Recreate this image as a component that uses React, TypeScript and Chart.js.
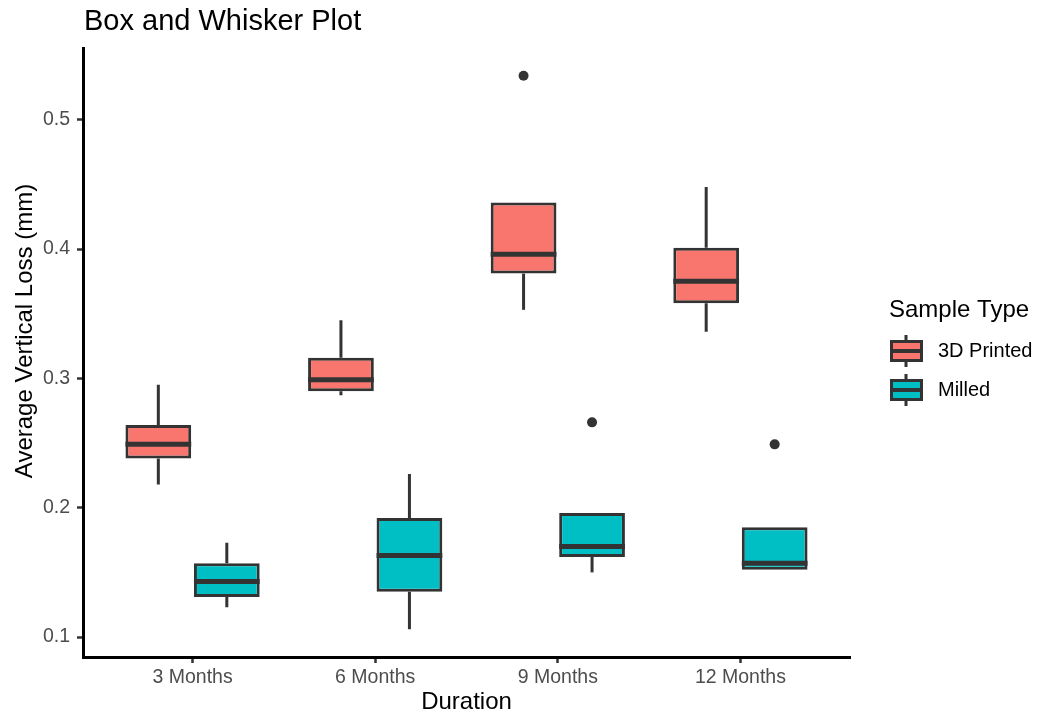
import React, { useEffect, useRef } from "react";
import { Chart, registerables } from "chart.js";

Chart.register(...registerables);

// ---------- data ----------
const durations = ["3 Months", "6 Months", "9 Months", "12 Months"];
const seriesNames = ["3D Printed", "Milled"];

const printedLow = [0.218, 0.287, 0.353, 0.336];
const printedQ1 = [0.238, 0.29, 0.381, 0.358];
const printedMedian = [0.249, 0.299, 0.396, 0.375];
const printedQ3 = [0.264, 0.316, 0.436, 0.401];
const printedHigh = [0.295, 0.345, 0.436, 0.448];
const printedOutliers: number[][] = [[], [], [0.534], []];

const milledLow = [0.123, 0.106, 0.15, 0.152];
const milledQ1 = [0.131, 0.135, 0.162, 0.152];
const milledMedian = [0.143, 0.163, 0.17, 0.157];
const milledQ3 = [0.157, 0.192, 0.196, 0.185];
const milledHigh = [0.173, 0.226, 0.196, 0.185];
const milledOutliers: number[][] = [[], [], [0.266], [0.249]];

const yTickValues = [0.1, 0.2, 0.3, 0.4, 0.5];
const yTickLabels = ["0.1", "0.2", "0.3", "0.4", "0.5"];

// ---------- styles ----------
const FONT = '"Liberation Sans", Arial, Helvetica, sans-serif';
const COLORS = ["#F8766D", "#00BFC4"];
const DARK = "#333333";

const allValues = [
  ...printedLow, ...printedHigh, ...printedOutliers.flat(),
  ...milledLow, ...milledHigh, ...milledOutliers.flat(),
];
const dataMin = Math.min(...allValues);
const dataMax = Math.max(...allValues);
const pad = (dataMax - dataMin) * 0.05;

function makeDataset(idx: number, low: number[], q1: number[], med: number[], q3: number[], high: number[], out: number[][]) {
  return {
    label: seriesNames[idx],
    data: durations.map((_, i) => ({ x: i + 1, y: [q1[i], q3[i]] })),
    backgroundColor: COLORS[idx],
    borderColor: DARK,
    borderWidth: 3,
    borderSkipped: false,
    categoryPercentage: 0.75,
    barPercentage: 0.96,
    stats: { low, q1, med, q3, high, out },
  } as any;
}

const boxPlugin = {
  id: "boxWhisker",
  beforeDatasetsDraw(chart: any) {
    const ctx = chart.ctx;
    const ys = chart.scales.y;
    ctx.save();
    ctx.strokeStyle = DARK;
    ctx.lineWidth = 3;
    ctx.lineCap = "butt";
    chart.data.datasets.forEach((ds: any, di: number) => {
      const meta = chart.getDatasetMeta(di);
      meta.data.forEach((bar: any, j: number) => {
        const s = ds.stats;
        const x = bar.x;
        ctx.beginPath();
        ctx.moveTo(x, ys.getPixelForValue(s.high[j]));
        ctx.lineTo(x, ys.getPixelForValue(s.q3[j]));
        ctx.moveTo(x, ys.getPixelForValue(s.q1[j]));
        ctx.lineTo(x, ys.getPixelForValue(s.low[j]));
        ctx.stroke();
      });
    });
    ctx.restore();
  },
  afterDatasetsDraw(chart: any) {
    const ctx = chart.ctx;
    const ys = chart.scales.y;
    ctx.save();
    chart.data.datasets.forEach((ds: any, di: number) => {
      const meta = chart.getDatasetMeta(di);
      meta.data.forEach((bar: any, j: number) => {
        const s = ds.stats;
        const x = bar.x;
        const w = bar.width;
        ctx.strokeStyle = DARK;
        ctx.lineWidth = 5;
        ctx.beginPath();
        const my = ys.getPixelForValue(s.med[j]);
        ctx.moveTo(x - w / 2, my);
        ctx.lineTo(x + w / 2, my);
        ctx.stroke();
        ctx.fillStyle = DARK;
        s.out[j].forEach((v: number) => {
          ctx.beginPath();
          ctx.arc(x, ys.getPixelForValue(v), 5, 0, Math.PI * 2);
          ctx.fill();
        });
      });
    });
    ctx.restore();
  },
  afterDraw(chart: any) {
    const ctx = chart.ctx;
    const area = chart.chartArea;
    ctx.save();
    // title
    ctx.fillStyle = "#000000";
    ctx.font = `29px ${FONT}`;
    ctx.textAlign = "left";
    ctx.textBaseline = "alphabetic";
    ctx.fillText("Box and Whisker Plot", area.left + 1, 30);

    // y axis title
    ctx.save();
    ctx.translate(25, 331);
    ctx.rotate(-Math.PI / 2);
    ctx.font = `24px ${FONT}`;
    ctx.textAlign = "center";
    ctx.textBaseline = "middle";
    ctx.fillText("Average Vertical Loss (mm)", 0, 0);
    ctx.restore();

    // legend
    const lx = area.right + 39;
    ctx.font = `24px ${FONT}`;
    ctx.textAlign = "left";
    ctx.textBaseline = "alphabetic";
    ctx.fillText("Sample Type", lx, 317);
    seriesNames.forEach((name, k) => {
      const cy = 351 + k * 39;
      const kx = lx + 1;
      ctx.strokeStyle = DARK;
      ctx.lineWidth = 3;
      ctx.beginPath();
      ctx.moveTo(kx + 16, cy - 16);
      ctx.lineTo(kx + 16, cy - 10);
      ctx.moveTo(kx + 16, cy + 10);
      ctx.lineTo(kx + 16, cy + 16);
      ctx.stroke();
      ctx.fillStyle = COLORS[k];
      ctx.fillRect(kx + 1.5, cy - 9.5, 30, 19);
      ctx.strokeRect(kx + 1.5, cy - 9.5, 30, 19);
      ctx.lineWidth = 4;
      ctx.beginPath();
      ctx.moveTo(kx + 1.5, cy);
      ctx.lineTo(kx + 31.5, cy);
      ctx.stroke();
      ctx.fillStyle = "#000000";
      ctx.font = `20px ${FONT}`;
      ctx.textBaseline = "middle";
      ctx.fillText(name, lx + 49, cy);
    });
    ctx.restore();
  },
};

export default function App() {
  const ref = useRef<HTMLCanvasElement | null>(null);

  useEffect(() => {
    if (!ref.current) return;
    const chart = new Chart(ref.current, {
      type: "bar",
      data: {
        datasets: [
          makeDataset(0, printedLow, printedQ1, printedMedian, printedQ3, printedHigh, printedOutliers),
          makeDataset(1, milledLow, milledQ1, milledMedian, milledQ3, milledHigh, milledOutliers),
        ],
      },
      options: {
        responsive: false,
        animation: false,
        devicePixelRatio: 1,
        layout: { padding: { top: 48, right: 194, left: 0, bottom: 0 } },
        plugins: {
          legend: { display: false },
          tooltip: { enabled: false },
          title: { display: false },
        },
        scales: {
          x: {
            type: "linear",
            min: 0.4,
            max: 4.6,
            offset: false,
            afterFit: (s: any) => { s.height = 62; },
            afterBuildTicks: (s: any) => { s.ticks = durations.map((_, i) => ({ value: i + 1 })); },
            ticks: {
              callback: (v: any) => durations[Math.round(Number(v)) - 1] ?? "",
              color: "#4D4D4D",
              font: { family: FONT, size: 19.5 },
              padding: 3,
              maxRotation: 0,
              autoSkip: false,
            },
            grid: {
              display: true,
              offset: false,
              drawOnChartArea: false,
              drawTicks: true,
              tickLength: 6,
              tickWidth: 2.5,
              tickColor: DARK,
              color: DARK,
            },
            border: { display: true, color: "#000000", width: 3 },
            title: {
              display: true,
              text: "Duration",
              color: "#000000",
              font: { family: FONT, size: 24 },
              padding: { top: 0, bottom: 2 },
            },
          },
          y: {
            type: "linear",
            min: dataMin - pad,
            max: dataMax + pad,
            afterFit: (s: any) => { s.width = 83; },
            afterBuildTicks: (s: any) => { s.ticks = yTickValues.map((v) => ({ value: v })); },
            ticks: {
              callback: (v: any) => {
                const i = yTickValues.findIndex((t) => Math.abs(t - Number(v)) < 1e-9);
                return i >= 0 ? yTickLabels[i] : "";
              },
              color: "#4D4D4D",
              font: { family: FONT, size: 19.5 },
              padding: 7,
              autoSkip: false,
            },
            grid: {
              display: true,
              drawOnChartArea: false,
              drawTicks: true,
              tickLength: 6,
              tickWidth: 2.5,
              tickColor: DARK,
              color: DARK,
            },
            border: { display: true, color: "#000000", width: 3 },
          },
        },
      } as any,
      plugins: [boxPlugin],
    });
    return () => chart.destroy();
  }, []);

  return (
    <div style={{ position: "absolute", left: 0, top: 0, width: 1044, height: 719, background: "#ffffff" }}>
      <canvas ref={ref} width={1044} height={719} style={{ display: "block" }} />
    </div>
  );
}
